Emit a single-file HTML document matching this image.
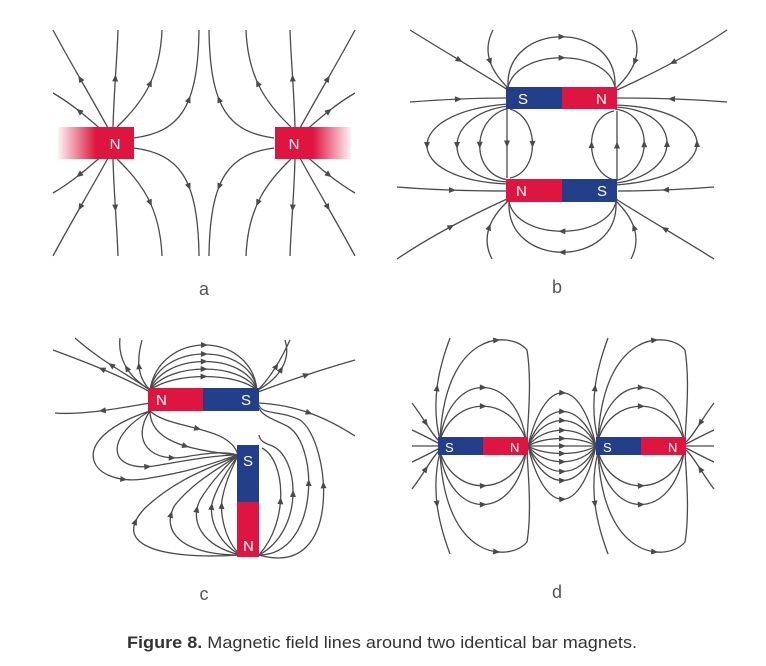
<!DOCTYPE html>
<html><head><meta charset="utf-8"><style>
html,body{margin:0;padding:0;background:#fff;width:766px;height:666px;overflow:hidden}
svg{display:block}
.fl{fill:none;stroke:#4a4a4a;stroke-width:1.3}
.lbl{font-family:"Liberation Sans",sans-serif;font-size:15px;fill:#fff}
.pl{font-family:"Liberation Sans",sans-serif;font-size:18px;fill:#555}
</style></head><body>
<svg width="766" height="666" viewBox="0 0 766 666">
<defs>
<linearGradient id="fadeL" x1="0" x2="1"><stop offset="0" stop-color="#dd1540" stop-opacity="0.05"/><stop offset="0.5" stop-color="#dd1540"/><stop offset="1" stop-color="#dd1540"/></linearGradient>
<linearGradient id="fadeR" x1="1" x2="0"><stop offset="0" stop-color="#dd1540" stop-opacity="0.05"/><stop offset="0.5" stop-color="#dd1540"/><stop offset="1" stop-color="#dd1540"/></linearGradient>
</defs>

<!-- Panel a -->
<g>
<g id="aq" class="flines">
<path class="fl" d="M108,128 C90,95 70,62 53,30"/>
<path class="fl" d="M104,132 C88,118 72,104 53,93"/>
<path class="fl" d="M113,127 C114,90 117,60 118,30"/>
<path class="fl" d="M117,127 C140,105 160,80 162,30"/>
<path class="fl" d="M134,138 C178,132 198,110 199,30"/>
</g>
<use href="#aq" transform="matrix(1,0,0,-1,0,286)"/>
<use href="#aq" transform="matrix(-1,0,0,1,408,0)"/>
<use href="#aq" transform="matrix(-1,0,0,-1,408,286)"/>
<rect x="58" y="127" width="76" height="32" fill="url(#fadeL)"/>
<rect x="275" y="127" width="76" height="32" fill="url(#fadeR)"/>
<text class="lbl" x="115" y="149" text-anchor="middle">N</text>
<text class="lbl" x="294" y="149" text-anchor="middle">N</text>
<text class="pl" x="204" y="295" text-anchor="middle">a</text>
</g>

<!-- Panel b -->
<g>
<g id="bh">
<path class="fl" d="M410,30 C450,55 485,75 508,90"/>
<path class="fl" d="M410,102 C450,99 485,98 506,98"/>
<path class="fl" d="M508,104 C400,112 400,180 508,184"/>
<path class="fl" d="M508,106 C440,115 440,178 508,182"/>
<path class="fl" d="M509,108 C470,118 470,175 509,180"/>
<path class="fl" d="M510,109 C540,118 540,172 510,178"/>
<path class="fl" d="M507,109 L507,178"/>
<path class="fl" d="M508,87 C518,48 606,48 615,87"/>
<path class="fl" d="M508,87 C505,20 618,20 615,87"/>
<path class="fl" d="M493,30 C480,55 495,75 508,88"/>
<path class="fl" d="M632,30 C645,55 630,75 616,88"/>
<path class="fl" d="M727,30 C690,55 650,75 617,90"/>
<path class="fl" d="M727,102 C690,99 650,98 617,98"/>
</g>
<use href="#bh" transform="rotate(180 562 144.5)"/>
<rect x="506" y="87" width="56" height="22" fill="#233f8a"/>
<rect x="562" y="87" width="55" height="22" fill="#dd1540"/>
<rect x="506" y="179" width="56" height="23" fill="#dd1540"/>
<rect x="562" y="179" width="55" height="23" fill="#233f8a"/>
<text class="lbl" x="518" y="104">S</text><text class="lbl" x="596" y="104">N</text>
<text class="lbl" x="516" y="196">N</text><text class="lbl" x="597" y="196">S</text>
<text class="pl" x="557" y="293" text-anchor="middle">b</text>
</g>

<!-- Panel c -->
<g>
<path class="fl" d="M150,390 C160,330 250,330 257,390"/>
<path class="fl" d="M150,390 C160,342 250,342 257,390"/>
<path class="fl" d="M150,390 C165,352 245,352 257,390"/>
<path class="fl" d="M150,390 C170,362 240,362 257,390"/>
<path class="fl" d="M150,390 C175,372 235,372 257,390"/>
<path class="fl" d="M150,392 C120,375 80,360 53,350"/>
<path class="fl" d="M150,403 C110,410 80,415 55,413"/>
<path class="fl" d="M150,390 C120,370 100,360 75,338"/>
<path class="fl" d="M150,390 C125,375 118,355 120,338"/>
<path class="fl" d="M150,390 C135,375 138,355 142,340"/>
<path class="fl" d="M258,392 C290,380 320,370 355,360"/>
<path class="fl" d="M258,403 C300,405 330,420 355,436"/>
<path class="fl" d="M258,390 C285,375 290,355 285,340"/>
<path class="fl" d="M258,390 C270,378 280,362 290,340"/>
<path class="fl" d="M150,411 C60,440 90,490 150,478 C200,470 220,460 238,455"/>
<path class="fl" d="M150,411 C100,440 110,475 160,465 C200,458 220,455 238,455"/>
<path class="fl" d="M150,411 C130,440 150,465 190,456 C215,452 228,452 238,455"/>
<path class="fl" d="M150,411 C150,440 185,450 238,455"/>
<path class="fl" d="M150,411 C170,430 230,425 238,455"/>
<path class="fl" d="M240,555 C160,560 110,545 145,508 C180,475 220,465 238,455"/>
<path class="fl" d="M240,555 C180,555 160,530 175,505 C195,480 225,465 238,455"/>
<path class="fl" d="M240,555 C200,545 190,520 200,500 C212,480 230,462 238,455"/>
<path class="fl" d="M240,555 C215,540 208,515 213,500 C220,480 232,465 238,455"/>
<path class="fl" d="M240,555 C225,540 220,515 222,500 C226,478 234,465 238,455"/>
<path class="fl" d="M259,555 C345,580 330,440 300,420 C280,410 262,415 259,405"/>
<path class="fl" d="M259,555 C320,555 320,440 285,425 C270,418 262,415 259,408"/>
<path class="fl" d="M259,555 C305,530 300,455 270,445 C262,442 260,440 259,435"/>
<path class="fl" d="M259,555 C290,520 285,460 262,448"/>
<rect x="148" y="388" width="55" height="23" fill="#dd1540"/>
<rect x="203" y="388" width="56" height="23" fill="#233f8a"/>
<rect x="237" y="445" width="22" height="57" fill="#233f8a"/>
<rect x="237" y="502" width="22" height="55" fill="#dd1540"/>
<text class="lbl" x="156" y="405">N</text><text class="lbl" x="241" y="405">S</text>
<text class="lbl" x="243" y="466">S</text><text class="lbl" x="243" y="551">N</text>
<text class="pl" x="204" y="600" text-anchor="middle">c</text>
</g>

<!-- Panel d -->
<g>
<g id="dm">
<path class="fl" d="M440,440 C455,395 510,395 526,440"/>
<path class="fl" d="M440,440 C450,370 515,370 526,440"/>
<path class="fl" d="M440,440 C445,330 510,330 527,350 C532,380 528,420 527,440"/>
<path class="fl" d="M440,440 C430,400 440,365 450,338"/>
</g>
<use href="#dm" transform="matrix(1,0,0,-1,0,892)"/>
<use href="#dm" transform="translate(158,0)"/>
<use href="#dm" transform="matrix(1,0,0,-1,158,892)"/>
<g id="dl">
<path class="fl" d="M412,403 C425,420 432,435 440,442"/>
<path class="fl" d="M412,430 C425,436 432,440 440,444"/>
</g>
<path class="fl" d="M412,446 L440,446"/>
<use href="#dl" transform="matrix(1,0,0,-1,0,892)"/>
<use href="#dl" transform="matrix(-1,0,0,1,1126,0)"/>
<use href="#dl" transform="matrix(-1,0,0,-1,1126,892)"/>
<path class="fl" d="M686,446 L714,446"/>
<g id="dmid">
<path class="fl" d="M528,446 C545,375 580,375 596,446"/>
<path class="fl" d="M528,446 C545,400 580,400 596,446"/>
<path class="fl" d="M528,446 C545,412 580,412 596,446"/>
<path class="fl" d="M528,446 C545,425 580,425 596,446"/>
<path class="fl" d="M528,446 C545,436 580,436 596,446"/>
</g>
<use href="#dmid" transform="matrix(1,0,0,-1,0,892)"/>
<path class="fl" d="M528,446 L596,446"/>
<rect x="438" y="437" width="45" height="18" fill="#233f8a"/>
<rect x="483" y="437" width="45" height="18" fill="#dd1540"/>
<rect x="596" y="437" width="45" height="18" fill="#233f8a"/>
<rect x="641" y="437" width="45" height="18" fill="#dd1540"/>
<text class="lbl" x="445" y="452" style="font-size:13px">S</text><text class="lbl" x="510" y="452" style="font-size:13px">N</text>
<text class="lbl" x="603" y="452" style="font-size:13px">S</text><text class="lbl" x="668" y="452" style="font-size:13px">N</text>
<text class="pl" x="557" y="598" text-anchor="middle">d</text>
</g>

<text x="127" y="648" textLength="510" lengthAdjust="spacingAndGlyphs" style="font-family:'Liberation Sans',sans-serif;font-size:17px;fill:#333"><tspan font-weight="bold">Figure 8.</tspan> Magnetic field lines around two identical bar magnets.</text>
</svg>
<script>
document.querySelectorAll('path.fl').forEach(function(p){
  var L=p.getTotalLength(); if(L<40) return;
  var a=p.getPointAtLength(L*0.5), b=p.getPointAtLength(L*0.5+2);
  var ang=Math.atan2(b.y-a.y,b.x-a.x)*180/Math.PI;
  var t=document.createElementNS('http://www.w3.org/2000/svg','path');
  t.setAttribute('d','M4,0 L-3,-3 L-3,3 Z');
  t.setAttribute('fill','#4a4a4a');
  t.setAttribute('transform','translate('+a.x+','+a.y+') rotate('+ang+')');
  
  
  p.parentNode.insertBefore(t,p.nextSibling);
});
</script>
</body></html>
